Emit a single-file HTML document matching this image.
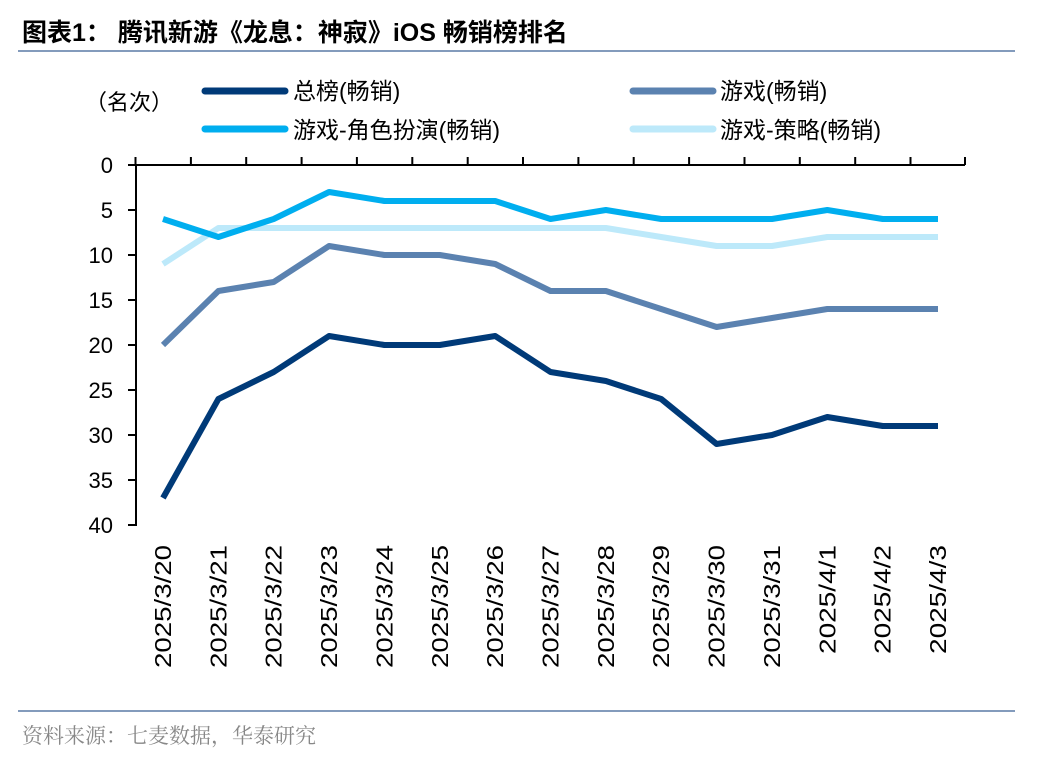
<!DOCTYPE html>
<html><head><meta charset="utf-8"><style>
body{margin:0;background:#fff;width:1048px;height:760px;overflow:hidden}
svg{display:block}
</style></head><body>
<svg width="1048" height="760" xmlns="http://www.w3.org/2000/svg" font-family="Liberation Sans, Noto Sans CJK SC, sans-serif">
<text x="22" y="41" font-size="25" font-weight="bold" fill="#000" font-family="Liberation Sans, Noto Sans CJK SC, sans-serif">图表1：  腾讯新游《龙息：神寂》iOS 畅销榜排名</text>
<line x1="18" y1="51" x2="1015" y2="51" stroke="#5a7aa6" stroke-width="1.5"/>
<line x1="18" y1="711" x2="1015" y2="711" stroke="#5a7aa6" stroke-width="1.5"/>
<text x="22" y="743" font-size="21" fill="#888" font-family="Noto Serif CJK SC, serif">资料来源：七麦数据，华泰研究</text>
<text x="85" y="110" font-size="22" fill="#000" font-family="Noto Sans CJK SC, sans-serif">（名次）</text>
<g font-size="23" fill="#000">
<line x1="205" y1="91" x2="285" y2="91" stroke="#003a78" stroke-width="7" stroke-linecap="round"/><text x="293" y="99">总榜(畅销)</text>
<line x1="633" y1="91" x2="713" y2="91" stroke="#5b82b0" stroke-width="7" stroke-linecap="round"/><text x="720" y="99">游戏(畅销)</text>
<line x1="205" y1="129" x2="285" y2="129" stroke="#00aeef" stroke-width="7" stroke-linecap="round"/><text x="293" y="138">游戏-角色扮演(畅销)</text>
<line x1="633" y1="129" x2="713" y2="129" stroke="#bde9fa" stroke-width="7" stroke-linecap="round"/><text x="720" y="138">游戏-策略(畅销)</text>
</g>
<g stroke="#000" stroke-width="2">
<line x1="136" y1="165" x2="136" y2="526"/>
<line x1="136" y1="165" x2="965" y2="165"/>
<line x1="128" y1="165" x2="136" y2="165"/><line x1="128" y1="210" x2="136" y2="210"/><line x1="128" y1="255" x2="136" y2="255"/><line x1="128" y1="300" x2="136" y2="300"/><line x1="128" y1="345" x2="136" y2="345"/><line x1="128" y1="390" x2="136" y2="390"/><line x1="128" y1="435" x2="136" y2="435"/><line x1="128" y1="480" x2="136" y2="480"/><line x1="128" y1="525" x2="136" y2="525"/>
<line x1="135.5" y1="157" x2="135.5" y2="165"/><line x1="190.9" y1="157" x2="190.9" y2="165"/><line x1="246.2" y1="157" x2="246.2" y2="165"/><line x1="301.6" y1="157" x2="301.6" y2="165"/><line x1="356.9" y1="157" x2="356.9" y2="165"/><line x1="412.3" y1="157" x2="412.3" y2="165"/><line x1="467.7" y1="157" x2="467.7" y2="165"/><line x1="523" y1="157" x2="523" y2="165"/><line x1="578.4" y1="157" x2="578.4" y2="165"/><line x1="633.7" y1="157" x2="633.7" y2="165"/><line x1="689.1" y1="157" x2="689.1" y2="165"/><line x1="744.5" y1="157" x2="744.5" y2="165"/><line x1="799.8" y1="157" x2="799.8" y2="165"/><line x1="855.2" y1="157" x2="855.2" y2="165"/><line x1="910.5" y1="157" x2="910.5" y2="165"/><line x1="965" y1="157" x2="965" y2="165"/>
</g>
<g font-size="22" text-anchor="end" fill="#000">
<text x="113" y="173">0</text><text x="113" y="218">5</text><text x="113" y="263">10</text><text x="113" y="308">15</text><text x="113" y="353">20</text><text x="113" y="398">25</text><text x="113" y="443">30</text><text x="113" y="488">35</text><text x="113" y="533">40</text>
</g>
<g font-size="23" text-anchor="end" fill="#000" lengthAdjust="spacingAndGlyphs">
<text transform="translate(171,545) rotate(-90)" textLength="123" lengthAdjust="spacingAndGlyphs">2025/3/20</text>
<text transform="translate(226.4,545) rotate(-90)" textLength="123" lengthAdjust="spacingAndGlyphs">2025/3/21</text>
<text transform="translate(281.7,545) rotate(-90)" textLength="123" lengthAdjust="spacingAndGlyphs">2025/3/22</text>
<text transform="translate(337.1,545) rotate(-90)" textLength="123" lengthAdjust="spacingAndGlyphs">2025/3/23</text>
<text transform="translate(392.4,545) rotate(-90)" textLength="123" lengthAdjust="spacingAndGlyphs">2025/3/24</text>
<text transform="translate(447.8,545) rotate(-90)" textLength="123" lengthAdjust="spacingAndGlyphs">2025/3/25</text>
<text transform="translate(503.2,545) rotate(-90)" textLength="123" lengthAdjust="spacingAndGlyphs">2025/3/26</text>
<text transform="translate(558.5,545) rotate(-90)" textLength="123" lengthAdjust="spacingAndGlyphs">2025/3/27</text>
<text transform="translate(613.9,545) rotate(-90)" textLength="123" lengthAdjust="spacingAndGlyphs">2025/3/28</text>
<text transform="translate(669.2,545) rotate(-90)" textLength="123" lengthAdjust="spacingAndGlyphs">2025/3/29</text>
<text transform="translate(724.6,545) rotate(-90)" textLength="123" lengthAdjust="spacingAndGlyphs">2025/3/30</text>
<text transform="translate(780,545) rotate(-90)" textLength="123" lengthAdjust="spacingAndGlyphs">2025/3/31</text>
<text transform="translate(835.3,545) rotate(-90)" textLength="109" lengthAdjust="spacingAndGlyphs">2025/4/1</text>
<text transform="translate(890.7,545) rotate(-90)" textLength="109" lengthAdjust="spacingAndGlyphs">2025/4/2</text>
<text transform="translate(946,545) rotate(-90)" textLength="109" lengthAdjust="spacingAndGlyphs">2025/4/3</text>
</g>
<g fill="none" stroke-width="6" stroke-linejoin="round">
<polyline stroke="#bde9fa" points="163,264 218.4,228 273.7,228 329.1,228 384.4,228 439.8,228 495.2,228 550.5,228 605.9,228 661.2,237 716.6,246 772,246 827.3,237 882.7,237 938,237"/>
<polyline stroke="#00aeef" points="163,219 218.4,237 273.7,219 329.1,192 384.4,201 439.8,201 495.2,201 550.5,219 605.9,210 661.2,219 716.6,219 772,219 827.3,210 882.7,219 938,219"/>
<polyline stroke="#5b82b0" points="163,345 218.4,291 273.7,282 329.1,246 384.4,255 439.8,255 495.2,264 550.5,291 605.9,291 661.2,309 716.6,327 772,318 827.3,309 882.7,309 938,309"/>
<polyline stroke="#003a78" points="163,498 218.4,399 273.7,372 329.1,336 384.4,345 439.8,345 495.2,336 550.5,372 605.9,381 661.2,399 716.6,444 772,435 827.3,417 882.7,426 938,426"/>
</g>
</svg>
</body></html>
